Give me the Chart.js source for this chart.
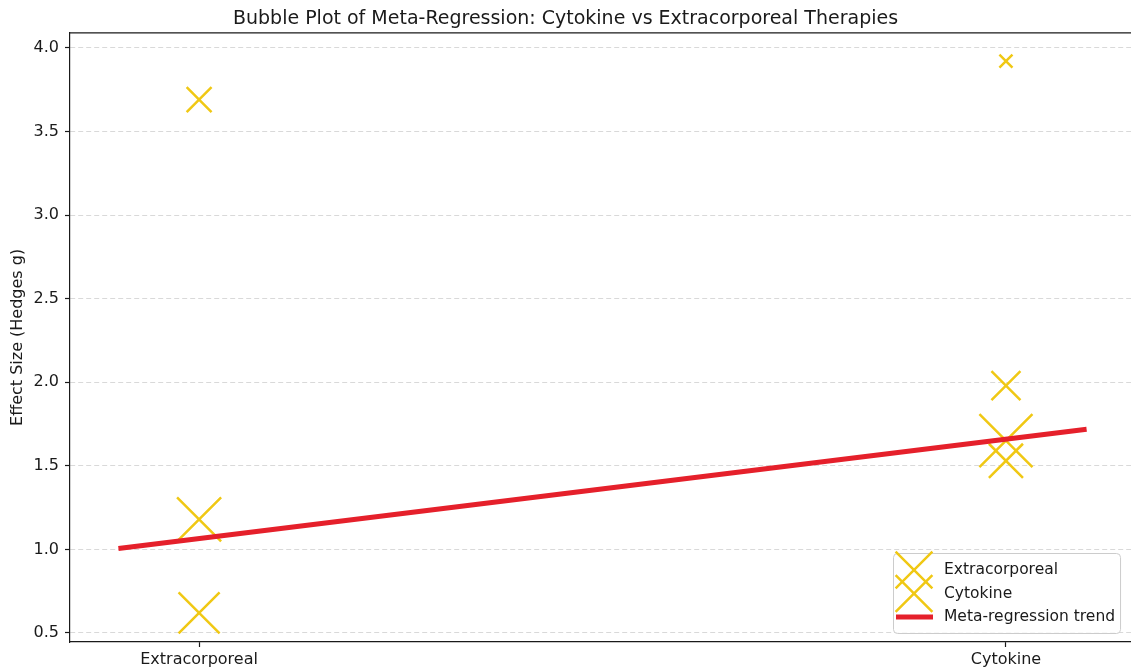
<!DOCTYPE html>
<html>
<head>
<meta charset="utf-8">
<script src="https://cdn.jsdelivr.net/npm/chart.js@4"></script>
<style>
  html, body { margin: 0; padding: 0; background: #fff; }
  #wrap { width: 1131px; height: 672px; position: relative; }
</style>
</head>
<body>
<div id="wrap"><canvas id="bubble"></canvas></div>
<script>
const categories = ['Extracorporeal', 'Cytokine'];

// effect sizes (Hedges g) per study, grouped by therapy type
const extraEffects = [3.69, 1.18, 0.62];
const cytoEffects = [3.92, 1.98, 1.65, 1.53];

// relative study weights (drive the marker size)
const extraWeights = [62, 194, 168];
const cytoWeights = [17, 84, 281, 116];

// fitted meta-regression trend, evaluated at its two ends
const trendX = [-0.1, 1.1];
const trendY = [1.005, 1.718];

const yTicks = [0.5, 1.0, 1.5, 2.0, 2.5, 3.0, 3.5, 4.0];

const GOLD = '#f0c814';
const RED = '#e5202b';
const FONT = "'DejaVu Sans', sans-serif";
const INK = '#1a1a1a';

const weightToRadius = w => Math.sqrt(5 * w);

const studyPoints = (catIdx, effects) => effects.map(y => ({ x: catIdx, y }));

// top spine (matplotlib-style box)
const topSpine = {
  id: 'topSpine',
  afterDraw(chart) {
    const { ctx, chartArea: a } = chart;
    ctx.save();
    ctx.strokeStyle = INK;
    ctx.lineWidth = 1.2;
    ctx.beginPath();
    ctx.moveTo(a.left, a.top);
    ctx.lineTo(a.right, a.top);
    ctx.stroke();
    ctx.restore();
  }
};

// legend box in the lower-right corner of the plot area
const cornerLegend = {
  id: 'cornerLegend',
  afterDraw(chart) {
    const { ctx, chartArea: a } = chart;
    const items = chart.data.datasets
      .slice()
      .sort((p, q) => p.legendRank - q.legendRank);
    ctx.save();
    ctx.font = `15.5px ${FONT}`;
    const textW = Math.max(...items.map(d => ctx.measureText(d.label).width));
    const rowH = 23.5;
    const w = 51 + textW + 5;
    const h = 80;
    const x0 = Math.round(a.right - 11 - w);
    const y0 = Math.round(a.bottom - 9 - h);

    ctx.fillStyle = 'rgba(255,255,255,0.8)';
    ctx.strokeStyle = '#cccccc';
    ctx.lineWidth = 1;
    ctx.beginPath();
    ctx.roundRect(x0 + 0.5, y0 + 0.5, w, h, 4);
    ctx.fill();
    ctx.stroke();

    items.forEach((d, i) => {
      const cy = y0 + 17 + i * rowH;
      const hx = x0 + 21;
      if (d.type === 'line') {
        ctx.strokeStyle = d.borderColor;
        ctx.lineWidth = 5;
        ctx.beginPath();
        ctx.moveTo(hx - 18, cy);
        ctx.lineTo(hx + 19, cy);
        ctx.stroke();
      } else {
        ctx.strokeStyle = d.borderColor;
        ctx.lineWidth = 2.5;
        Chart.helpers.drawPoint(ctx, {
          pointStyle: 'crossRot',
          radius: 26,
          borderWidth: 2.5,
          rotation: 0
        }, hx, cy);
      }
      ctx.fillStyle = INK;
      ctx.textBaseline = 'middle';
      ctx.textAlign = 'left';
      ctx.fillText(d.label, x0 + 51, cy);
    });
    ctx.restore();
  }
};

new Chart(document.getElementById('bubble'), {
  type: 'scatter',
  data: {
    datasets: [
      {
        type: 'line',
        label: 'Meta-regression trend',
        data: trendX.map((x, i) => ({ x, y: trendY[i] })),
        borderColor: RED,
        borderWidth: 5,
        pointRadius: 0,
        fill: false,
        order: 0,
        legendRank: 2
      },
      {
        label: 'Extracorporeal',
        data: studyPoints(0, extraEffects),
        pointStyle: 'crossRot',
        pointRadius: extraWeights.map(weightToRadius),
        borderColor: GOLD,
        backgroundColor: GOLD,
        borderWidth: 2.5,
        order: 1,
        legendRank: 0
      },
      {
        label: 'Cytokine',
        data: studyPoints(1, cytoEffects),
        pointStyle: 'crossRot',
        pointRadius: cytoWeights.map(weightToRadius),
        borderColor: GOLD,
        backgroundColor: GOLD,
        borderWidth: 2.5,
        order: 2,
        legendRank: 1
      }
    ]
  },
  options: {
    responsive: true,
    maintainAspectRatio: false,
    animation: false,
    layout: { padding: 0, autoPadding: false },
    plugins: {
      legend: { display: false },
      tooltip: { enabled: false },
      title: {
        display: true,
        text: 'Bubble Plot of Meta-Regression: Cytokine vs Extracorporeal Therapies',
        color: INK,
        font: { family: FONT, size: 19, weight: 'normal' },
        padding: { top: 8, bottom: 2 }
      }
    },
    scales: {
      x: {
        type: 'linear',
        min: -0.16,
        max: 1.155,
        afterBuildTicks: s => { s.ticks = categories.map((c, i) => ({ value: i })); },
        afterFit: s => { s.height = 30; s.paddingLeft = 0; s.paddingRight = 0; },
        ticks: {
          callback: v => categories[v] ?? '',
          color: INK,
          font: { family: FONT, size: 16 },
          padding: 3,
          maxRotation: 0,
          autoSkip: false
        },
        grid: {
          drawOnChartArea: false,
          drawTicks: true,
          tickLength: 5,
          tickColor: INK,
          tickWidth: 1.2
        },
        border: { color: INK, width: 1.2 }
      },
      y: {
        min: 0.446,
        max: 4.09,
        afterBuildTicks: s => { s.ticks = yTicks.map(v => ({ value: v })); },
        afterFit: s => { s.width = 70; s.paddingTop = 0; s.paddingBottom = 0; },
        title: {
          display: true,
          text: 'Effect Size (Hedges g)',
          color: INK,
          font: { family: FONT, size: 16 },
          padding: { top: 8, bottom: 0 }
        },
        ticks: {
          callback: v => v.toFixed(1),
          color: INK,
          font: { family: FONT, size: 16 },
          padding: 6
        },
        grid: {
          color: '#d9d9d9',
          lineWidth: 1,
          drawTicks: true,
          tickLength: 5,
          tickColor: INK,
          tickWidth: 1.2
        },
        border: { color: INK, width: 1.2, dash: [5, 3] }
      }
    }
  },
  plugins: [topSpine, cornerLegend]
});
</script>
</body>
</html>
